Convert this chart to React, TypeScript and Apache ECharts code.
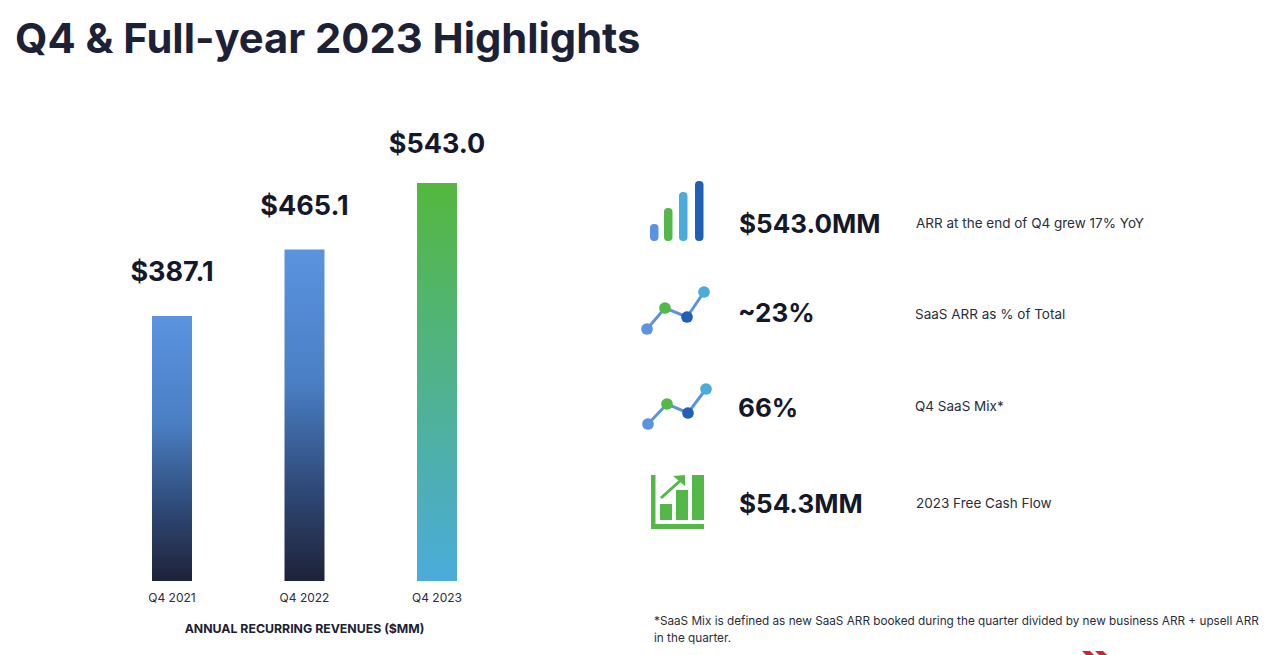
import React, { useEffect, useRef } from "react";
import * as echarts from "echarts";

const categories = ["Q4 2021", "Q4 2022", "Q4 2023"];
const arrValues = [387.1, 465.1, 543.0];
const titleText = "Q4 & Full-year 2023 Highlights";
const axisTitle = "ANNUAL RECURRING REVENUES ($MM)";
const kpiValues = ["$543.0MM", "~23%", "66%", "$54.3MM"];
const kpiNotes = ["ARR at the end of Q4 grew 17% YoY", "SaaS ARR as % of Total", "Q4 SaaS Mix*", "2023 Free Cash Flow"];
const footnotes = [
  "*SaaS Mix is defined as new SaaS ARR booked during the quarter divided by new business ARR + upsell ARR",
  "in the quarter.",
];

const INK = "#1c2136";
const FONT = "Inter, 'Noto Sans', sans-serif";
const BLUE = "#5b93e0", GREEN = "#54b848", SKY = "#4bacdc", NAVY = "#2060b4";

const blueBar = () => new echarts.graphic.LinearGradient(0, 0, 0, 1, [
  { offset: 0, color: "#5b93e0" },
  { offset: 0.4, color: "#4a7fc4" },
  { offset: 0.72, color: "#2f4a78" },
  { offset: 1, color: "#1e2238" },
]);
const greenBar = () => new echarts.graphic.LinearGradient(0, 0, 0, 1, [
  { offset: 0, color: "#54b83e" },
  { offset: 1, color: "#4bacdc" },
]);

const text = (x: number, y: number, t: string, size: number, weight: number | string, color = INK) => ({
  type: "text", x, y,
  style: { text: t, fontSize: size, fontWeight: weight, fontFamily: FONT, fill: color, verticalAlign: "middle", align: "left" },
});

const lineIcon = (pts: number[][]) => [
  { type: "polyline", shape: { points: pts }, style: { stroke: BLUE, lineWidth: 3, fill: "none" } },
  ...pts.map((p, i) => ({
    type: "circle", shape: { cx: p[0], cy: p[1], r: 5.8 },
    style: { fill: [BLUE, GREEN, NAVY, SKY][i] },
  })),
];

export default function App() {
  const ref = useRef<HTMLDivElement>(null);
  useEffect(() => {
    const chart = echarts.init(ref.current!, undefined, { renderer: "svg" });
    const kpiY = [223, 312, 407, 503];
    const kpiX = [739, 738, 738, 739];
    const noteX = [916, 915, 915, 916];
    const noteY = [223, 314, 406, 503];
    const labelGap = [31, 30, 26];
    const barIcon = [
      { x: 650, top: 224, color: BLUE },
      { x: 664, top: 208, color: GREEN },
      { x: 679, top: 192, color: SKY },
      { x: 695, top: 181, color: NAVY },
    ].map((b) => ({
      type: "rect", shape: { x: b.x, y: b.top, width: 8.5, height: 241 - b.top, r: 4 }, style: { fill: b.color },
    }));
    const cashIcon = [
      [651, 475, 4.5, 54], [651, 524, 53, 5], [660, 504, 12, 16], [676, 490, 12, 30], [692, 475, 12, 45],
    ].map((r) => ({ type: "rect", shape: { x: r[0], y: r[1], width: r[2], height: r[3] }, style: { fill: GREEN } }));

    chart.setOption({
      animation: false,
      backgroundColor: "#ffffff",
      title: {
        text: titleText, left: 10, top: 12,
        textStyle: { fontSize: 41.7, fontWeight: 700, color: INK, fontFamily: FONT },
      },
      grid: { left: 105.75, width: 397.5, top: 183, bottom: 74, containLabel: false },
      xAxis: {
        type: "category", data: categories,
        axisLine: { show: false }, axisTick: { show: false },
        axisLabel: { fontSize: 12, color: "#2a2d3c", fontFamily: FONT, margin: 10 },
        name: axisTitle, nameLocation: "middle", nameGap: 41,
        nameTextStyle: { fontSize: 12.3, fontWeight: 700, color: INK, fontFamily: FONT },
      },
      yAxis: { type: "value", min: 76.5, max: 543, show: false, splitLine: { show: false } },
      series: [{
        type: "bar", barWidth: 40,
        data: arrValues.map((v, i) => ({
          value: v,
          itemStyle: { color: i === 2 ? greenBar() : blueBar() },
          label: { distance: labelGap[i] },
        })),
        label: {
          show: true, position: "top",
          formatter: (p: any) => "$" + Number(p.value).toFixed(1),
          fontSize: 27, fontWeight: 700, color: "#15182a", fontFamily: FONT,
        },
      }],
      graphic: [
        ...barIcon,
        ...lineIcon([[647, 329], [665, 308], [687, 317], [704, 292]]),
        ...lineIcon([[648, 424], [667, 404], [688, 413], [706, 389]]),
        ...cashIcon,
        { type: "line", shape: { x1: 661, y1: 498, x2: 681, y2: 480 }, style: { stroke: GREEN, lineWidth: 3 } },
        { type: "polygon", shape: { points: [[673, 476], [685, 475], [685, 486]] }, style: { fill: GREEN } },
        ...kpiValues.map((t, i) => text(kpiX[i], kpiY[i], t, 26, 700, "#15182a")),
        ...kpiNotes.map((t, i) => text(noteX[i], noteY[i], t, 13.5, 400, "#2a2d3c")),
        ...footnotes.map((t, i) => text(654, 621 + i * 17, t, 11.75, 400, "#2a2d3c")),
        { type: "polygon", shape: { points: [[1082, 651], [1090, 651], [1094, 655], [1086, 655]] }, style: { fill: "#c8282d" } },
        { type: "polygon", shape: { points: [[1095, 651], [1103, 651], [1107, 655], [1099, 655]] }, style: { fill: "#c8282d" } },
      ],
    });
    return () => chart.dispose();
  }, []);
  return <div ref={ref} style={{ position: "fixed", left: 0, top: 0, width: 1280, height: 655 }} />;
}
